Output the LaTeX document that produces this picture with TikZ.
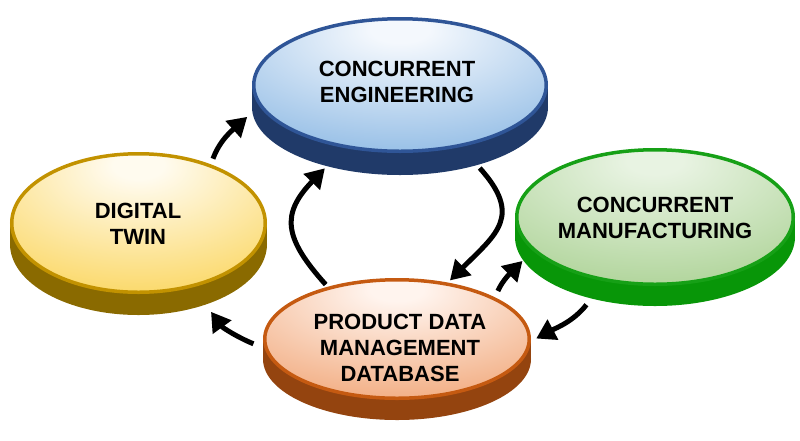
\documentclass[tikz,border=0pt]{standalone}
\usepackage{fontspec}
\setmainfont{Liberation Sans}
\usetikzlibrary{arrows.meta,shapes.geometric}

\definecolor{ceLine}{HTML}{2F5597}
\definecolor{ceBase}{HTML}{203A69}
\definecolor{ceTint}{HTML}{95BEE6}
\definecolor{ceHi}{HTML}{F4F8FD}
\definecolor{dtLine}{HTML}{C29200}
\definecolor{dtBase}{HTML}{8A6A00}
\definecolor{dtTint}{HTML}{FBD867}
\definecolor{dtHi}{HTML}{FFFBEF}
\definecolor{cmLine}{HTML}{16A016}
\definecolor{cmBase}{HTML}{089608}
\definecolor{cmTint}{HTML}{A8D090}
\definecolor{cmHi}{HTML}{E8F3E2}
\definecolor{pdLine}{HTML}{C55A11}
\definecolor{pdBase}{HTML}{94440F}
\definecolor{pdTint}{HTML}{F2AD82}
\definecolor{pdHi}{HTML}{FFF4EE}

\pgfdeclareradialshading{ceShade}{\pgfpoint{0bp}{22bp}}{color(0bp)=(ceHi); color(5bp)=(ceHi); color(40bp)=(ceTint); color(100bp)=(ceTint)}
\pgfdeclareradialshading{dtShade}{\pgfpoint{0bp}{22bp}}{color(0bp)=(dtHi); color(5bp)=(dtHi); color(40bp)=(dtTint); color(100bp)=(dtTint)}
\pgfdeclareradialshading{cmShade}{\pgfpoint{0bp}{22bp}}{color(0bp)=(cmHi); color(5bp)=(cmHi); color(45bp)=(cmTint); color(100bp)=(cmTint)}
\pgfdeclareradialshading{pdShade}{\pgfpoint{0bp}{22bp}}{color(0bp)=(pdHi); color(5bp)=(pdHi); color(40bp)=(pdTint); color(100bp)=(pdTint)}

\begin{document}
\begin{tikzpicture}[x=1pt,y=-1pt,
  face/.style={ellipse, draw, line width=3.5pt, inner sep=0pt, shade},
  discbase/.style={ellipse, inner sep=0pt, outer sep=0pt},
  disctext/.style={align=center, font=\bfseries\fontsize{22pt}{26pt}\selectfont, text=black, inner sep=0pt},
  flow/.style={line width=5pt, -{Triangle[length=19pt,width=22pt]}}]

\useasboundingbox (0,0) rectangle (800,440);

% Concurrent Engineering
\node[discbase, fill=ceBase, minimum width=296pt, minimum height=136pt] (ceb) at (400,107) {};
\fill[ceBase] ([yshift=22pt]ceb.west) rectangle (ceb.east);
\node[face, draw=ceLine, shading=ceShade, minimum width=292.5pt, minimum height=132.5pt] (ce) at (400,85) {};
\node[disctext] (cet) at (397,82) {CONCURRENT\\ENGINEERING};

% Digital Twin
\node[discbase, fill=dtBase, minimum width=257pt, minimum height=142pt] (dtb) at (138.5,244) {};
\fill[dtBase] ([yshift=21pt]dtb.west) rectangle (dtb.east);
\node[face, draw=dtLine, shading=dtShade, minimum width=253.5pt, minimum height=138.5pt] (dt) at (138.5,223) {};
\node[disctext] (dtt) at (138,223.5) {DIGITAL\\TWIN};

% Concurrent Manufacturing
\node[discbase, fill=cmBase, minimum width=280pt, minimum height=138pt] (cmb) at (655,237) {};
\fill[cmBase] ([yshift=20pt]cmb.west) rectangle (cmb.east);
\node[face, draw=cmLine, shading=cmShade, minimum width=276.5pt, minimum height=134.5pt] (cm) at (655,217) {};
\node[disctext] (cmt) at (655,217.5) {CONCURRENT\\MANUFACTURING};

% Product Data Management Database
\node[discbase, fill=pdBase, minimum width=268pt, minimum height=122pt] (pdb) at (397,359) {};
\fill[pdBase] ([yshift=20pt]pdb.west) rectangle (pdb.east);
\node[face, draw=pdLine, shading=pdShade, minimum width=264.5pt, minimum height=118.5pt] (pd) at (397,339) {};
\node[disctext] (pdt) at (400,347.5) {PRODUCT DATA\\MANAGEMENT\\DATABASE};

% arrows
\draw[flow, shorten <=6pt, shorten >=7pt] (dt.39) to[out=70, in=222] (ceb.182);
\draw[flow, shorten <=4pt, shorten >=3pt] (ceb.-37) to[out=-48, in=45, looseness=1.45] (pd.48);
\draw[flow, shorten <=3pt, shorten >=3pt] (pd.143) to[out=132, in=226, looseness=1.4] (ceb.219);
\draw[flow, shorten <=7pt, shorten >=1pt] (pd.23) to[out=66, in=225] (cmb.190);
\draw[flow, shorten <=8pt, shorten >=6pt] (cmb.224) to[out=232, in=28] (pd.-1);
\draw[flow, shorten <=12pt, shorten >=9pt] (pd.184) to[out=158, in=-54] (dtb.-42);
\end{tikzpicture}
\end{document}
